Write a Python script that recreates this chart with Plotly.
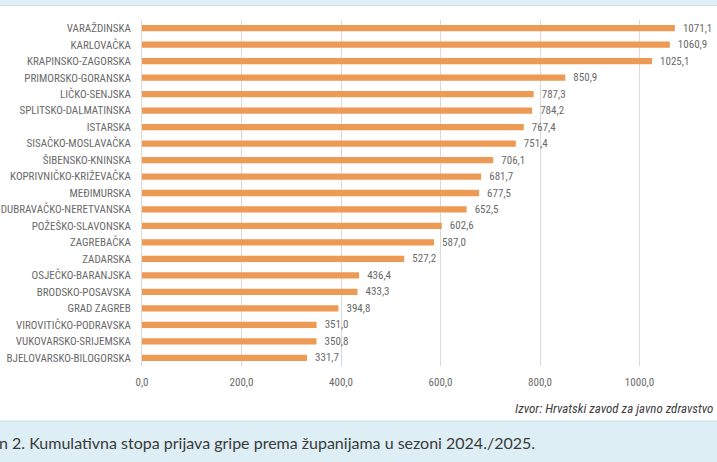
import plotly.graph_objects as go

categories = [
    "VARAŽDINSKA", "KARLOVAČKA", "KRAPINSKO-ZAGORSKA", "PRIMORSKO-GORANSKA",
    "LIČKO-SENJSKA", "SPLITSKO-DALMATINSKA", "ISTARSKA", "SISAČKO-MOSLAVAČKA",
    "ŠIBENSKO-KNINSKA", "KOPRIVNIČKO-KRIŽEVAČKA", "MEĐIMURSKA",
    "DUBRAVAČKO-NERETVANSKA", "POŽEŠKO-SLAVONSKA", "ZAGREBAČKA", "ZADARSKA",
    "OSJEČKO-BARANJSKA", "BRODSKO-POSAVSKA", "GRAD ZAGREB",
    "VIROVITIČKO-PODRAVSKA", "VUKOVARSKO-SRIJEMSKA", "BJELOVARSKO-BILOGORSKA",
]
values = [1071.1, 1060.9, 1025.1, 850.9, 787.3, 784.2, 767.4, 751.4, 706.1,
          681.7, 677.5, 652.5, 602.6, 587.0, 527.2, 436.4, 433.3, 394.8,
          351.0, 350.8, 331.7]
tick_values = [0, 200, 400, 600, 800, 1000]
source_text = "Izvor: Hrvatski zavod za javno zdravstvo"
caption_text = "n 2. Kumulativna stopa prijava gripe prema županijama u sezoni 2024./2025."

W, H = 717, 462
L, R, T, B = 142, 0, 20, 96
ph = H - T - B
pw = W - L - R

def py(p):  # pixel y -> paper y
    return (H - B - p) / ph

def px(p):  # pixel x -> paper x
    return (p - L) / pw

label_font = "Liberation Sans Narrow, Arial Narrow, Roboto Condensed, sans-serif"
label_color = "#6a6a6a"

fig = go.Figure(go.Bar(
    x=values, y=categories, orientation="h",
    marker=dict(color="#ED9A55", line=dict(width=0)),
    texttemplate="\u00a0\u00a0%{x:.1f}", textposition="outside", constraintext="none",
    textfont=dict(family=label_font, size=11, color=label_color),
    cliponaxis=False,
))

fig.update_layout(
    width=W, height=H,
    margin=dict(l=L, r=R, t=T, b=B),
    paper_bgcolor="white", plot_bgcolor="white",
    separators=",.",
    bargap=0.62,
    showlegend=False,
    xaxis=dict(range=[0, pw / 0.4975], tickvals=tick_values, tickformat=".1f",
               showgrid=True, gridcolor="#d9d9d9", gridwidth=1,
               zeroline=False, showline=False, ticks="",
               tickfont=dict(family=label_font, size=11, color=label_color),
               ticklabelstandoff=8),
    yaxis=dict(autorange="reversed", showgrid=False, showline=True,
               linecolor="#d9d9d9", ticks="", ticklabelstandoff=8,
               tickfont=dict(family=label_font, size=11, color=label_color)),
    shapes=[
        dict(type="rect", xref="paper", yref="paper", x0=px(0), x1=px(W),
             y0=py(5), y1=py(0), fillcolor="#e2f0f6", line=dict(width=0), layer="below"),
        dict(type="line", xref="paper", yref="paper", x0=px(0), x1=px(W),
             y0=py(5.5), y1=py(5.5), line=dict(color="#cfe1ea", width=1)),
        dict(type="rect", xref="paper", yref="paper", x0=px(0), x1=px(W),
             y0=py(H), y1=py(421), fillcolor="#ddeef4", line=dict(width=0), layer="below"),
        dict(type="line", xref="paper", yref="paper", x0=px(0), x1=px(W),
             y0=py(421), y1=py(421), line=dict(color="#c9dde6", width=1)),
    ],
    annotations=[
        dict(text="<i>" + source_text + "</i>", xref="paper", yref="paper",
             x=px(715), y=py(408),
             xanchor="right", yanchor="middle", showarrow=False,
             font=dict(family=label_font, size=13, color="#404040")),
        dict(text=caption_text, xref="paper", yref="paper", x=px(-3), y=py(443),
             xanchor="left", yanchor="middle", showarrow=False,
             font=dict(family="Lato, sans-serif", size=16, color="#3a3a3a")),
    ],
)

fig.write_html("out.html", config={"displayModeBar": False},
               post_script="document.body.style.margin='0';")
